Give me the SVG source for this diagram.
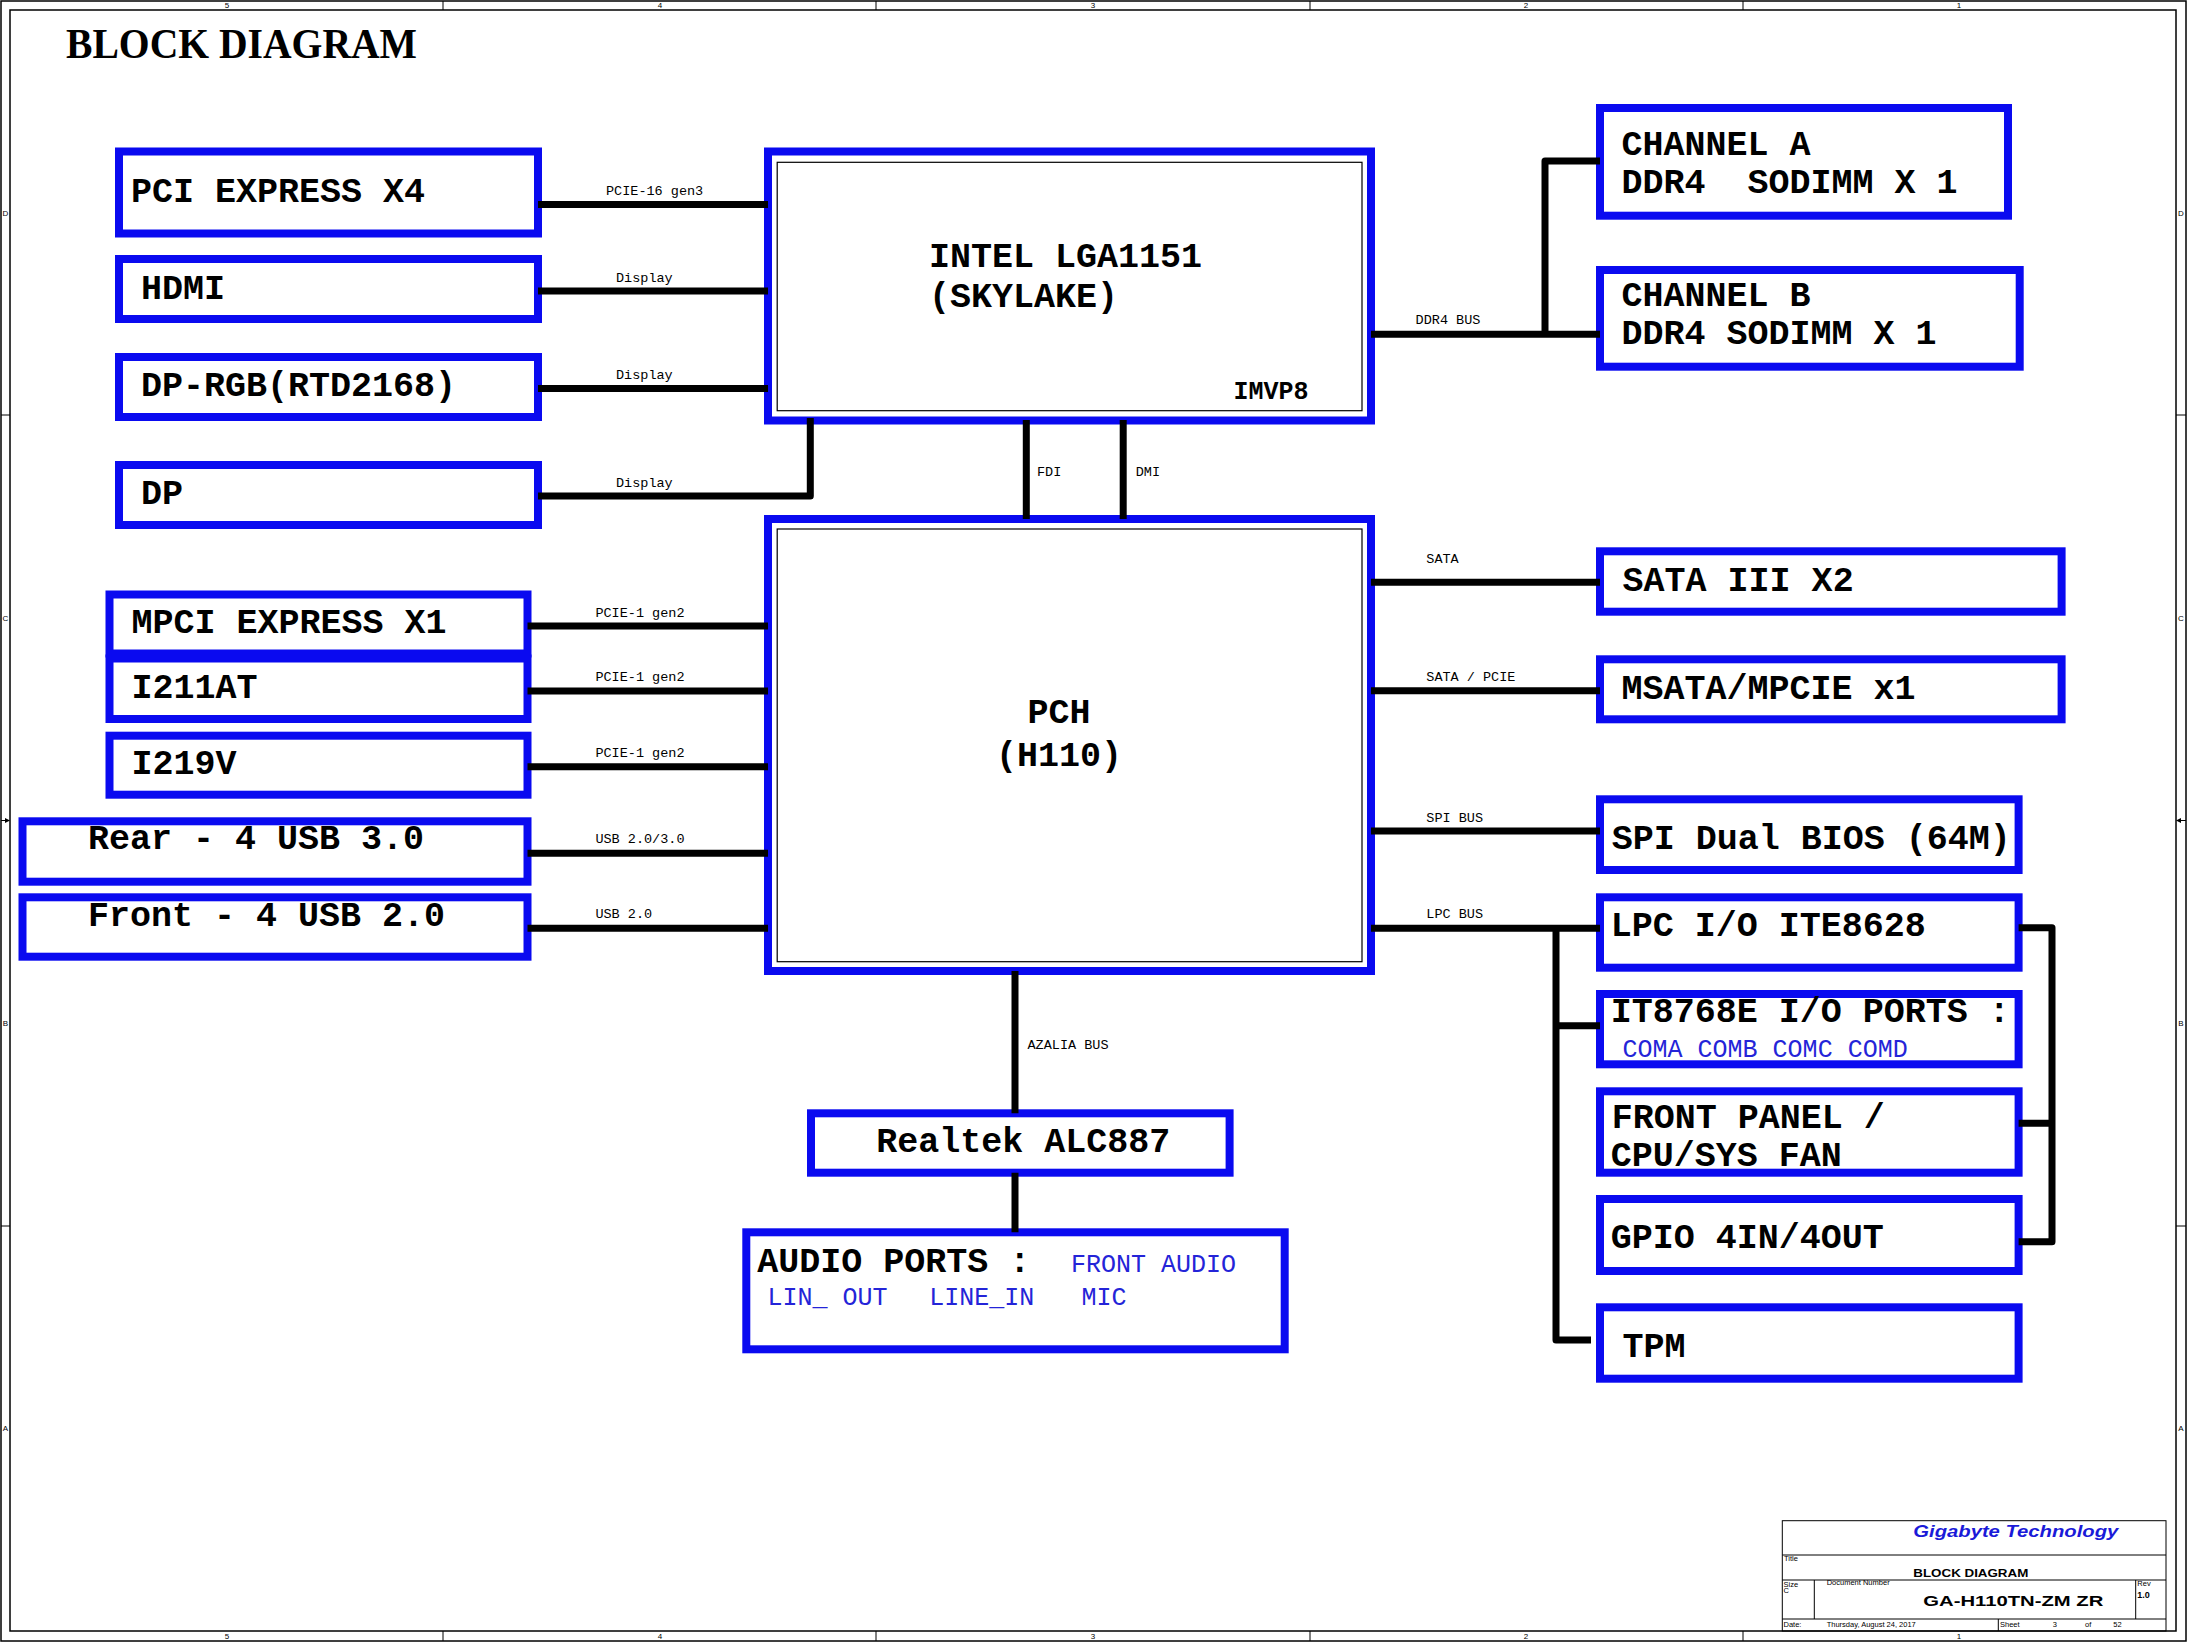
<svg xmlns="http://www.w3.org/2000/svg" width="2193" height="1643" viewBox="0 0 2193 1643">
<style>
.frame{fill:none;stroke:#000;stroke-width:1.5}
.thin{fill:none;stroke:#000;stroke-width:1}
.zone{font-family:"Liberation Sans",Arial,sans-serif;font-size:8px;fill:#000;text-anchor:middle}
.box{fill:#fff;stroke:#0a0af0;stroke-width:8}
.inner{fill:none;stroke:#000;stroke-width:1.2}
.lbl{font-family:"Liberation Mono","Courier New",monospace;font-weight:bold;font-size:35px;fill:#000}
.sm{font-size:25px}
.sub{font-family:"Liberation Mono","Courier New",monospace;font-size:25px;fill:#2424d8}
.bus{font-family:"Liberation Mono","Courier New",monospace;font-size:13.5px;fill:#000}
.wire{fill:none;stroke:#000;stroke-width:7;stroke-linejoin:round}
.tbt{font-family:"Liberation Sans",Arial,sans-serif;font-size:7.5px;fill:#000}
</style>
<rect width="2193" height="1643" fill="#fff"/>
<g id="frame">
<rect x="1" y="1" width="2185" height="1640" class="frame"/>
<rect x="10" y="10" width="2166" height="1621" class="frame"/>
<path class="thin" d="M443 1V10M876 1V10M1310 1V10M1743 1V10M443 1631V1641M876 1631V1641M1310 1631V1641M1743 1631V1641M1 415H10M1 1226H10M2176 415H2186M2176 1226H2186"/>
<path d="M1 820.5H7" class="thin"/><path d="M10 820.5L5 818V823Z" fill="#000"/>
<path d="M2180 820.5H2186" class="thin"/><path d="M2176 820.5L2181 818V823Z" fill="#000"/>
<text class="zone" x="227" y="8">5</text><text class="zone" x="660" y="8">4</text><text class="zone" x="1093" y="8">3</text><text class="zone" x="1526" y="8">2</text><text class="zone" x="1959" y="8">1</text>
<text class="zone" x="227" y="1639">5</text><text class="zone" x="660" y="1639">4</text><text class="zone" x="1093" y="1639">3</text><text class="zone" x="1526" y="1639">2</text><text class="zone" x="1959" y="1639">1</text>
<text class="zone" x="5.5" y="216">D</text><text class="zone" x="5.5" y="621">C</text><text class="zone" x="5.5" y="1026">B</text><text class="zone" x="5.5" y="1431">A</text>
<text class="zone" x="2181" y="216">D</text><text class="zone" x="2181" y="621">C</text><text class="zone" x="2181" y="1026">B</text><text class="zone" x="2181" y="1431">A</text>
<text x="66" y="58" font-family="'Liberation Serif','Times New Roman',serif" font-weight="bold" font-size="42" textLength="351" lengthAdjust="spacingAndGlyphs">BLOCK DIAGRAM</text>
</g>

<g id="pci-express-x4"><rect class="box" x="119" y="151.5" width="419" height="82"/><text class="lbl" x="131" y="202">PCI EXPRESS X4</text></g>
<g id="hdmi"><rect class="box" x="119" y="259" width="419" height="60"/><text class="lbl" x="141" y="299">HDMI</text></g>
<g id="dp-rgb"><rect class="box" x="119" y="357" width="419" height="60"/><text class="lbl" x="141" y="396">DP-RGB(RTD2168)</text></g>
<g id="dp"><rect class="box" x="119" y="465" width="419" height="60"/><text class="lbl" x="141" y="504">DP</text></g>

<g id="mpci-express-x1"><rect class="box" x="109.5" y="594.5" width="418" height="59"/><text class="lbl" x="131.5" y="633">MPCI EXPRESS X1</text></g>
<g id="i211at"><rect class="box" x="109.5" y="658.5" width="418" height="60.5"/><text class="lbl" x="131.5" y="698">I211AT</text></g>
<g id="i219v"><rect class="box" x="109.5" y="735.7" width="418" height="59"/><text class="lbl" x="131.5" y="774">I219V</text></g>
<g id="rear-usb"><rect class="box" x="22.5" y="821.3" width="505" height="60.4"/><text class="lbl" x="88" y="849">Rear - 4 USB 3.0</text></g>
<g id="front-usb"><rect class="box" x="22.5" y="897.3" width="505" height="59.4"/><text class="lbl" x="88" y="925.5">Front - 4 USB 2.0</text></g>

<g id="cpu"><rect class="box" x="768" y="151.5" width="603" height="269"/><rect class="inner" x="777.2" y="162.3" width="584.8" height="248.4"/>
<text class="lbl" x="929" y="267">INTEL LGA1151</text><text class="lbl" x="929" y="307">(SKYLAKE)</text>
<text class="lbl sm" x="1233.5" y="399">IMVP8</text></g>

<g id="pch"><rect class="box" x="768" y="519" width="603" height="452"/><rect class="inner" x="777.2" y="529" width="584.8" height="432.7"/>
<text class="lbl" x="1059" y="723" text-anchor="middle">PCH</text><text class="lbl" x="1059" y="766" text-anchor="middle">(H110)</text></g>

<g id="channel-a"><rect class="box" x="1600" y="108" width="408" height="107.7"/><text class="lbl" x="1621.5" y="155">CHANNEL A</text><text class="lbl" x="1621.5" y="193" xml:space="preserve">DDR4  SODIMM X 1</text></g>
<g id="channel-b"><rect class="box" x="1600" y="270" width="419.7" height="96.7"/><text class="lbl" x="1621.5" y="306">CHANNEL B</text><text class="lbl" x="1621.5" y="344">DDR4 SODIMM X 1</text></g>
<g id="sata"><rect class="box" x="1600" y="551.3" width="461.6" height="60.4"/><text class="lbl" x="1622.6" y="590.7">SATA III X2</text></g>
<g id="msata"><rect class="box" x="1600" y="659.3" width="461.6" height="60"/><text class="lbl" x="1621.5" y="699">MSATA/MPCIE x1</text></g>
<g id="spi-bios"><rect class="box" x="1600" y="799.3" width="418.6" height="70.7"/><text class="lbl" x="1611.8" y="849.3">SPI Dual BIOS (64M)</text></g>
<g id="lpc-io"><rect class="box" x="1600" y="897.3" width="418.6" height="70.4"/><text class="lbl" x="1610.8" y="936">LPC I/O ITE8628</text></g>
<g id="it8768e"><rect class="box" x="1600" y="994" width="418.6" height="70.3"/><text class="lbl" x="1610.8" y="1021.7">IT8768E I/O PORTS :</text><text class="sub" x="1622.6" y="1056.7">COMA COMB COMC COMD</text></g>
<g id="front-panel"><rect class="box" x="1600" y="1091.3" width="418.6" height="81.4"/><text class="lbl" x="1611.8" y="1128.3">FRONT PANEL /</text><text class="lbl" x="1610.8" y="1166">CPU/SYS FAN</text></g>
<g id="gpio"><rect class="box" x="1600" y="1199" width="418.6" height="72"/><text class="lbl" x="1610.8" y="1248.3">GPIO 4IN/4OUT</text></g>
<g id="tpm"><rect class="box" x="1600" y="1307.3" width="418.6" height="71.4"/><text class="lbl" x="1622.6" y="1357.3">TPM</text></g>

<g id="realtek"><rect class="box" x="811" y="1113.3" width="418.6" height="59.4"/><text class="lbl" x="876.2" y="1151.7">Realtek ALC887</text></g>
<g id="audio-ports"><rect class="box" x="746.3" y="1232.3" width="538.4" height="117"/><text class="lbl" x="757.2" y="1271.7">AUDIO PORTS :</text>
<text class="sub" x="1071" y="1272.3">FRONT AUDIO</text><text class="sub" x="767.6" y="1305">LIN_ OUT</text><text class="sub" x="929.3" y="1305">LINE_IN</text><text class="sub" x="1081.4" y="1305">MIC</text></g>

<g id="connectors">
<path class="wire" d="M538 204.6H768M538 291H768M538 388.6H768M538 496H810.3V418"/>
<path class="wire" d="M527.5 626H768M527.5 691H768M527.5 766.7H768M527.5 853.3H768M527.5 928.3H768"/>
<path class="wire" d="M1026.3 420V519M1123.2 420V519"/>
<path class="wire" d="M1371 334.3H1600M1545 334.3V161H1600"/>
<path class="wire" d="M1371 582.3H1600M1371 690.7H1600M1371 831H1600M1371 928.3H1600"/>
<path class="wire" d="M1556 928.3V1340H1591M1556 1025.7H1600"/>
<path class="wire" d="M2018.6 927.7H2052V1241.7H2018.6M2018.6 1123.3H2052"/>
<path class="wire" d="M1015 971V1113.3M1015 1172.7V1232.3"/>
<text class="bus" x="606" y="195">PCIE-16 gen3</text>
<text class="bus" x="616" y="282">Display</text>
<text class="bus" x="616" y="379">Display</text>
<text class="bus" x="616" y="487">Display</text>
<text class="bus" x="595.4" y="616.7">PCIE-1 gen2</text>
<text class="bus" x="595.4" y="680.7">PCIE-1 gen2</text>
<text class="bus" x="595.4" y="756.7">PCIE-1 gen2</text>
<text class="bus" x="595.4" y="842.7">USB 2.0/3.0</text>
<text class="bus" x="595.4" y="918.3">USB 2.0</text>
<text class="bus" x="1037" y="475.7">FDI</text>
<text class="bus" x="1135.7" y="475.7">DMI</text>
<text class="bus" x="1415.6" y="324.3">DDR4 BUS</text>
<text class="bus" x="1426.3" y="562.7">SATA</text>
<text class="bus" x="1426.3" y="680.7">SATA / PCIE</text>
<text class="bus" x="1426.3" y="821.7">SPI BUS</text>
<text class="bus" x="1426.3" y="918.3">LPC BUS</text>
<text class="bus" x="1027.5" y="1049">AZALIA BUS</text>
</g>

<g id="title-block">
<rect class="thin" x="1782.3" y="1520.7" width="383.7" height="110.3"/>
<path class="thin" d="M1782.3 1555H2166M1782.3 1580H2166M1782.3 1619H2166M1814.3 1580V1619M2135.7 1580V1619M1998.3 1619V1631"/>
<text x="1913.3" y="1536.7" font-family="'Liberation Sans',Arial,sans-serif" font-weight="bold" font-style="italic" font-size="16" fill="#1a1ad8" textLength="205" lengthAdjust="spacingAndGlyphs">Gigabyte Technology</text>
<text class="tbt" x="1784" y="1561">Title</text>
<text x="1913.3" y="1577.3" font-family="'Liberation Sans',Arial,sans-serif" font-weight="bold" font-size="11.5" textLength="115" lengthAdjust="spacingAndGlyphs">BLOCK DIAGRAM</text>
<text class="tbt" x="1783.5" y="1586.7">Size</text>
<text class="tbt" x="1783.5" y="1593">C</text>
<text class="tbt" x="1826.7" y="1585">Document Number</text>
<text x="1923.3" y="1606" font-family="'Liberation Sans',Arial,sans-serif" font-weight="bold" font-size="15" textLength="180" lengthAdjust="spacingAndGlyphs">GA-H110TN-ZM ZR</text>
<text class="tbt" x="2137.3" y="1586">Rev</text>
<text x="2137.3" y="1598" font-family="'Liberation Sans',Arial,sans-serif" font-weight="bold" font-size="9">1.0</text>
<text class="tbt" x="1783.5" y="1626.5">Date:</text>
<text class="tbt" x="1826.7" y="1626.5">Thursday, August 24, 2017</text>
<text class="tbt" x="2000" y="1626.5">Sheet</text>
<text class="tbt" x="2052.7" y="1626.5">3</text>
<text class="tbt" x="2085" y="1626.5">of</text>
<text class="tbt" x="2113.3" y="1626.5">52</text>
</g>
</svg>
